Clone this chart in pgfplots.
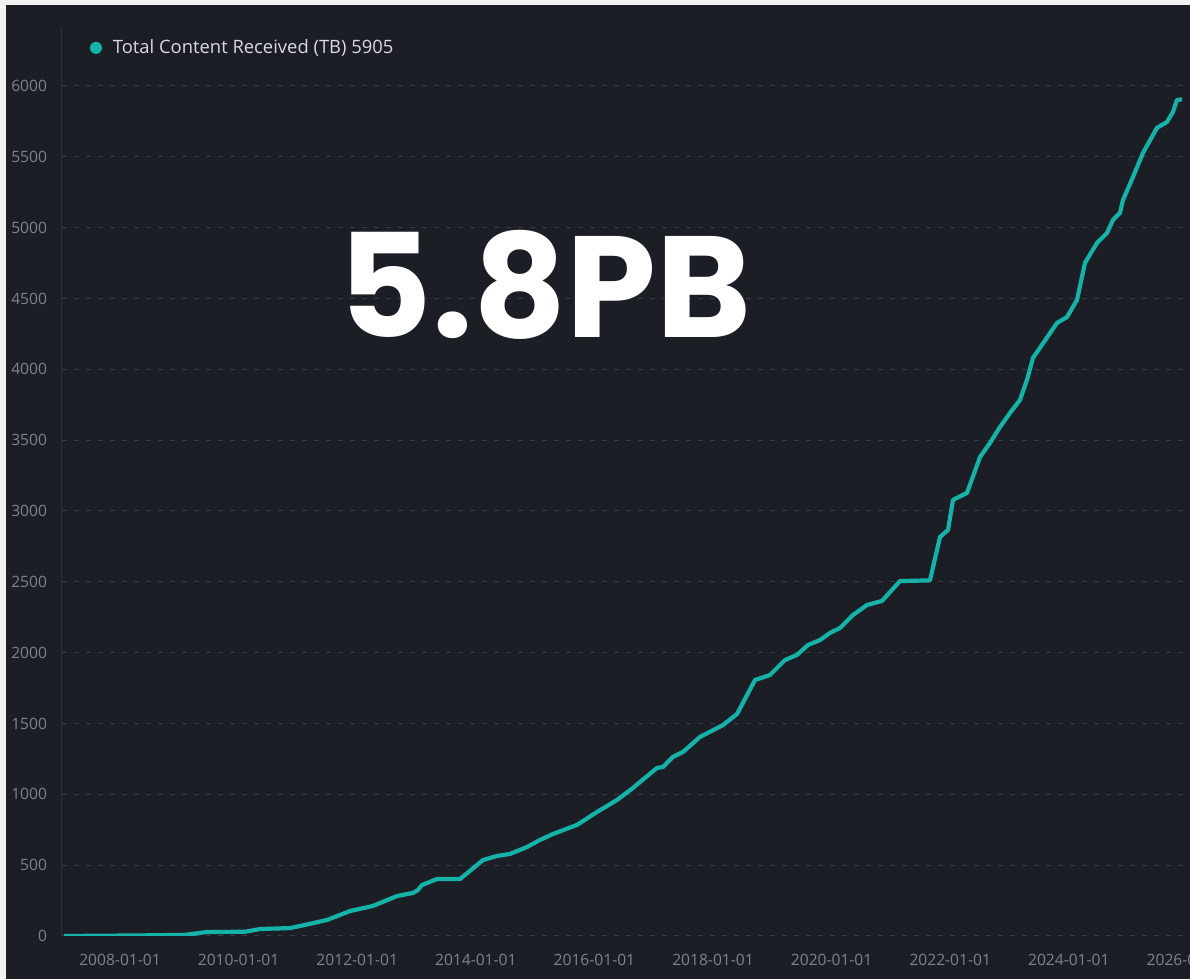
\documentclass[border=0pt]{standalone}
\usepackage{fontspec}
\setmainfont{Open Sans}
\newfontfamily\poppins{Poppins}
\usepackage{pgfplots}
\pgfplotsset{compat=1.18}
\definecolor{bglight}{HTML}{F2F2F2}
\definecolor{bgdark}{HTML}{1C1E25}
\definecolor{lineteal}{HTML}{15B2A7}
\definecolor{gridc}{HTML}{3A3D45}
\definecolor{tickc}{HTML}{80838C}
\definecolor{legc}{HTML}{D8DADF}
\definecolor{axisc}{HTML}{2E3139}
\begin{document}
\begin{tikzpicture}
\fill[bglight] (0pt,0pt) rectangle (595pt,489.5pt);
\fill[bgdark] (3pt,0pt) rectangle (595pt,487pt);
\begin{axis}[
  at={(31pt,21.5pt)}, anchor=south west,
  scale only axis, width=562.7pt, height=454.5pt,
  xmin=2007.022, xmax=2026, ymin=0, ymax=6416,
  axis x line*=bottom, axis y line*=left,
  x axis line style={draw=none},
  y axis line style={draw=axisc, line width=0.5pt, -},
  xtick={2008,2010,...,2026},
  xticklabels={2008-01-01,2010-01-01,2012-01-01,2014-01-01,2016-01-01,2018-01-01,2020-01-01,2022-01-01,2024-01-01,2026-01-01},
  ytick={0,500,...,6000},
  major tick length=0pt,
  /pgf/number format/assume math mode=true,
  /pgf/number format/1000 sep={},
  ymajorgrids,
  grid style={draw=gridc, line width=0.5pt, dash pattern=on 2.5pt off 3.5pt},
  yticklabel style={font=\fontsize{7.8}{9}\selectfont, text=tickc, anchor=east, xshift=-4pt},
  xticklabel style={font=\fontsize{7.8}{9}\selectfont, text=tickc, anchor=north, yshift=-5.5pt},
  legend style={at={(axis description cs:0.0245,0.977)}, anchor=west, draw=none, fill=none,
    text=legc, font=\fontsize{9.2}{10}\selectfont, inner sep=0pt},
  legend image code/.code={\path[draw=none] (0pt,0pt) -- (9.5pt,0pt); \fill[lineteal, draw=none] (3pt,0pt) circle (3pt);},
]
\addplot[lineteal, line width=2.1pt, line join=round] table {
x y
2007.056 0
2008.337 4
2009.096 8
2009.467 28
2010.108 30
2010.361 49
2010.867 56
2011.120 78
2011.491 113
2011.879 176
2012.266 212
2012.671 282
2012.941 304
2013.025 325
2013.093 360
2013.346 402
2013.734 402
2014.122 536
2014.358 565
2014.577 579
2014.863 628
2015.083 678
2015.302 720
2015.707 784
2016.044 875
2016.381 960
2016.651 1045
2016.769 1087
2017.056 1186
2017.157 1193
2017.326 1264
2017.494 1299
2017.781 1405
2018.169 1489
2018.405 1567
2018.709 1807
2018.961 1842
2019.214 1948
2019.417 1984
2019.602 2054
2019.804 2089
2019.973 2139
2020.142 2174
2020.361 2266
2020.597 2336
2020.850 2365
2021.153 2505
2021.659 2510
2021.828 2816
2021.963 2866
2022.047 3078
2022.283 3127
2022.503 3381
2022.671 3480
2022.840 3593
2023.009 3692
2023.177 3784
2023.295 3925
2023.396 4080
2023.801 4327
2023.970 4369
2024.138 4489
2024.273 4751
2024.476 4892
2024.645 4962
2024.745 5054
2024.863 5104
2024.914 5195
2025.083 5358
2025.251 5527
2025.487 5704
2025.656 5746
2025.757 5816
2025.825 5901
2025.909 5905
};
\legend{Total Content Received (TB) 5905}
\end{axis}
\node[font=\poppins\bfseries\fontsize{72}{72}\selectfont, text=white, inner sep=0pt] at (272.5pt,347pt) {5.8PB};
\pgfresetboundingbox
\useasboundingbox (0pt,0pt) rectangle (595pt,489.5pt);
\end{tikzpicture}
\end{document}
